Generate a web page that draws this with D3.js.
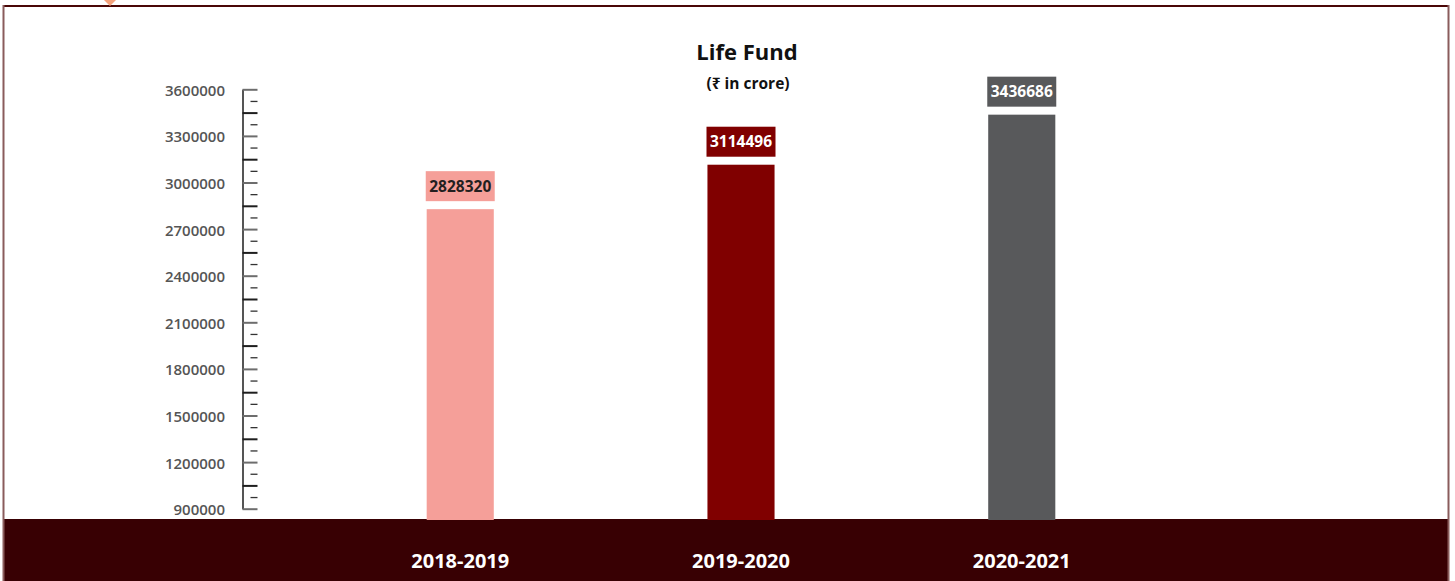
<!DOCTYPE html>
<html>
<head>
<meta charset="utf-8">
<script src="https://cdn.jsdelivr.net/npm/d3@7"></script>
<style>
  html, body { margin: 0; padding: 0; background: #ffffff; }
  svg { display: block; font-family: "Open Sans", "Noto Sans", "DejaVu Sans", sans-serif; }
</style>
</head>
<body>
<svg id="chart" width="1455" height="581"></svg>
<script>
// Life Fund by financial year (₹ in crore)
const years = ["2018-2019", "2019-2020", "2020-2021"];
const lifeFund = [2828320, 3114496, 3436686];
const barColors = ["#f59f99", "#800000", "#58595b"];
const labelColors = ["#231f20", "#ffffff", "#ffffff"];
const tickLabels = [900000, 1200000, 1500000, 1800000, 2100000, 2400000, 2700000, 3000000, 3300000, 3600000];

const W = 1455, H = 581;
const bandTop = 519;
const svg = d3.select("#chart");

// frame
svg.append("rect").attr("x", 0).attr("y", 0).attr("width", W).attr("height", H).attr("fill", "#ffffff");
svg.append("rect").attr("x", 4).attr("y", bandTop).attr("width", 1444).attr("height", H - bandTop).attr("fill", "#380003");
svg.append("line").attr("x1", 3).attr("x2", 1449).attr("y1", 6).attr("y2", 6)
  .attr("stroke", "#4a0606").attr("stroke-width", 2);
svg.append("line").attr("x1", 3.5).attr("x2", 3.5).attr("y1", 5).attr("y2", H)
  .attr("stroke", "#8a5c5c").attr("stroke-width", 2);
svg.append("line").attr("x1", 1448.5).attr("x2", 1448.5).attr("y1", 5).attr("y2", H)
  .attr("stroke", "#8a5c5c").attr("stroke-width", 2);
// small marker on the top edge
svg.append("path").attr("d", "M104,0 L116,0 L110,6 Z").attr("fill", "#f4a27c");

// scales
const y = d3.scaleLinear().domain([900000, 3600000]).range([508.7, 89.3]);
const x = d3.scaleBand().domain(years).range([320, 1162]).paddingInner(0.761).paddingOuter(0.38);

// title
svg.append("text").attr("x", 747).attr("y", 60).attr("text-anchor", "middle")
  .attr("font-size", 22).attr("font-weight", 700).attr("fill", "#111")
  .text("Life Fund");
svg.append("text").attr("x", 748).attr("y", 89).attr("text-anchor", "middle")
  .attr("font-size", 15.5).attr("font-weight", 700).attr("fill", "#111")
  .text("(₹ in crore)");

// y axis: ticks every 75 000, long ticks every 150 000
const allTicks = d3.range(900000, 3600001, 75000);
const axisG = svg.append("g").attr("transform", "translate(242.5,0)")
  .call(d3.axisRight(y).tickValues(allTicks).tickSizeInner(15).tickSizeOuter(0).tickFormat(""));
axisG.select(".domain").attr("stroke", "#555").attr("stroke-width", 2);
axisG.selectAll(".tick line")
  .attr("x1", d => (d % 150000 === 0 ? 0 : 8))
  .attr("x2", 15)
  .attr("stroke", d => (d % 300000 === 0 ? "#6d6d6d" : (d % 150000 === 0 ? "#1e1e1e" : "#333")))
  .attr("stroke-width", d => (d % 150000 === 0 ? 2 : 1.3));

const labelAxis = svg.append("g").attr("transform", "translate(225,0)")
  .call(d3.axisLeft(y).tickValues(tickLabels).tickSize(0).tickPadding(0).tickFormat(d3.format("d")));
labelAxis.select(".domain").remove();
labelAxis.selectAll("text")
  .attr("font-family", "'Open Sans', 'Noto Sans', sans-serif")
  .attr("font-size", 15).attr("font-weight", 600).attr("fill", "#555")
  .attr("dy", "0.4em");

// bars
const bars = svg.append("g");
bars.selectAll("rect").data(lifeFund).join("rect")
  .attr("x", (d, i) => x(years[i]))
  .attr("width", x.bandwidth())
  .attr("y", d => y(d))
  .attr("height", d => bandTop + 1 - y(d))
  .attr("fill", (d, i) => barColors[i]);

// value boxes above bars
const boxW = 69, boxH = 30, gap = 8;
const vals = svg.append("g");
vals.selectAll("rect").data(lifeFund).join("rect")
  .attr("x", (d, i) => x(years[i]) + x.bandwidth() / 2 - boxW / 2)
  .attr("y", d => y(d) - gap - boxH)
  .attr("width", boxW).attr("height", boxH)
  .attr("fill", (d, i) => barColors[i]);
vals.selectAll("text").data(lifeFund).join("text")
  .attr("x", (d, i) => x(years[i]) + x.bandwidth() / 2)
  .attr("y", d => y(d) - gap - boxH / 2)
  .attr("dy", "0.36em")
  .attr("text-anchor", "middle")
  .attr("font-size", 15.5).attr("font-weight", 700)
  .attr("fill", (d, i) => labelColors[i])
  .text(d => d);

// category labels in the band
svg.append("g").selectAll("text").data(years).join("text")
  .attr("x", d => x(d) + x.bandwidth() / 2)
  .attr("y", 568)
  .attr("text-anchor", "middle")
  .attr("font-size", 20).attr("font-weight", 700).attr("fill", "#ffffff")
  .text(d => d);
</script>
</body>
</html>
